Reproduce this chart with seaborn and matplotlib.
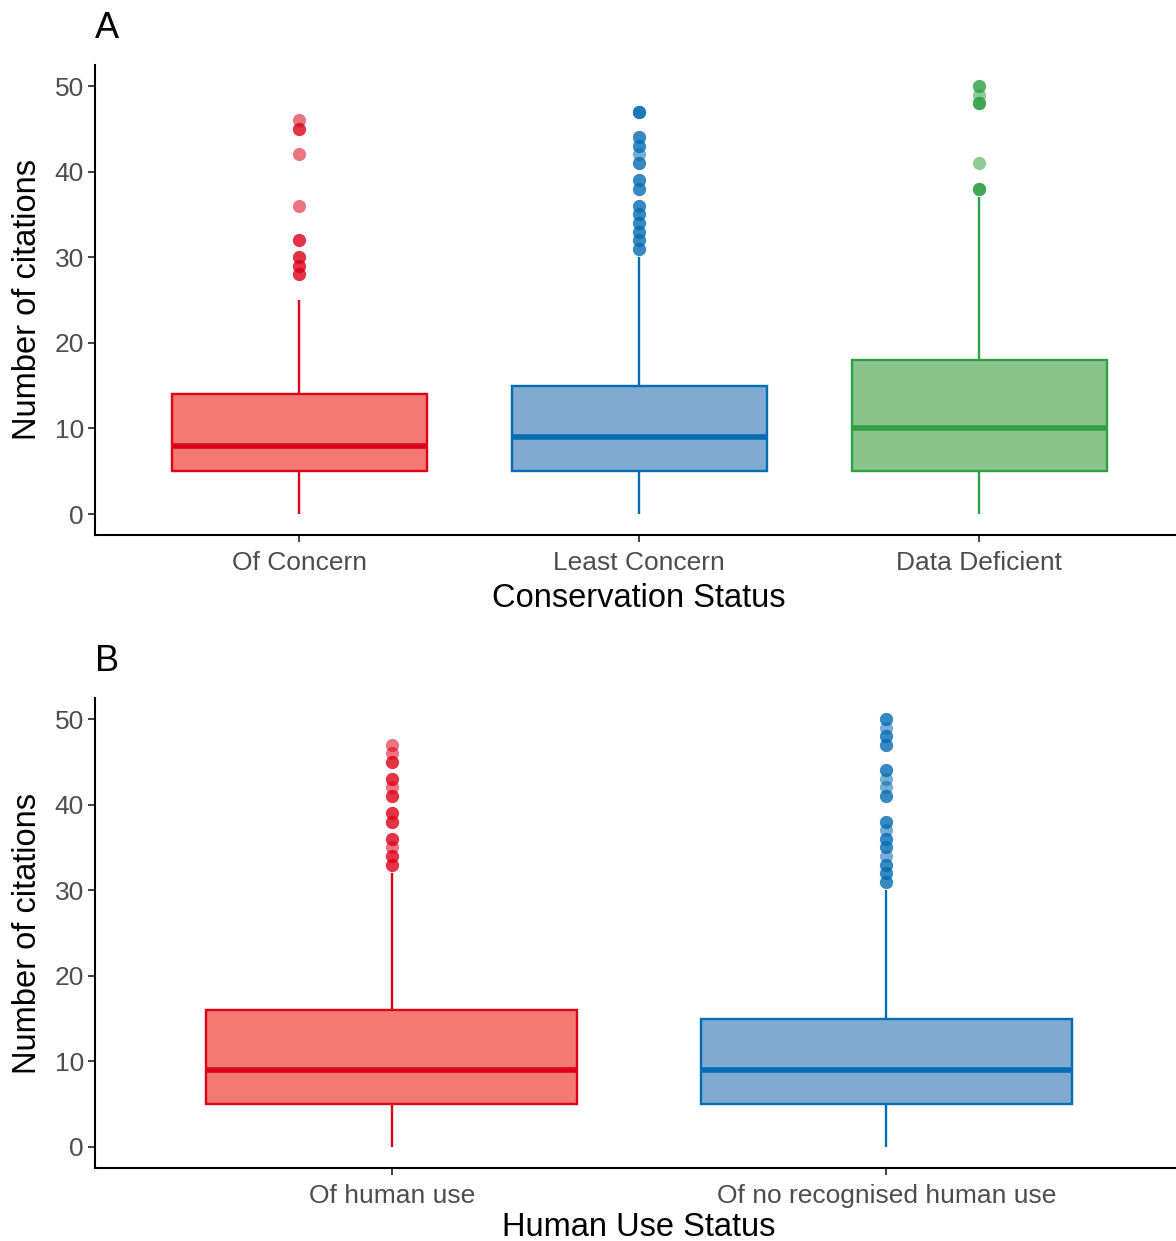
import pandas as pd
import numpy as np
import matplotlib
matplotlib.use("Agg")
import matplotlib.pyplot as plt
import seaborn as sns

# ---------------- data ----------------
# panel A: conservation status
status_labels = ["Of Concern", "Least Concern", "Data Deficient"]
status_low = [0, 0, 0]
status_q1 = [5, 5, 5]
status_med = [8, 9, 10]
status_q3 = [14, 15, 18]
status_high = [25, 30, 37]
status_outliers = [
    [46, 45, 45, 42, 36, 32, 32, 30, 30, 29, 29, 28, 28],
    [47, 47, 47, 44, 44, 43, 43, 42, 41, 41, 39, 39, 38, 38, 36, 36,
     35, 35, 34, 34, 33, 33, 32, 32, 31, 31],
    [50, 50, 49, 48, 48, 48, 41, 38, 38, 38],
]

# panel B: human use status
use_labels = ["Of human use", "Of no recognised human use"]
use_low = [0, 0]
use_q1 = [5, 5]
use_med = [9, 9]
use_q3 = [16, 15]
use_high = [32, 30]
use_outliers = [
    [47, 46, 45, 45, 43, 43, 42, 41, 41, 39, 39, 38, 38, 36, 36, 35,
     34, 34, 33, 33],
    [50, 50, 49, 48, 48, 47, 47, 44, 44, 43, 42, 41, 41, 38, 38, 37,
     36, 36, 35, 35, 34, 33, 33, 32, 32, 31, 31],
]

edge_cols = ["#DD0018", "#046CB4", "#2EA043"]
fill_cols = ["#F37A72", "#80AAD2", "#8AC48D"]


def make_df(labels, low, q1, med, q3, high, outliers, n=40):
    # rebuild a sample whose quartiles / whiskers match the summary values
    rows = []
    for i, lab in enumerate(labels):
        vals = [low[i]] + [q1[i]] * n + [med[i]] * n + [q3[i]] * n + [high[i]] + outliers[i]
        rows += [(lab, v) for v in vals]
    return pd.DataFrame(rows, columns=["group", "citations"])


dfA = make_df(status_labels, status_low, status_q1, status_med, status_q3, status_high, status_outliers)
dfB = make_df(use_labels, use_low, use_q1, use_med, use_q3, use_high, use_outliers)

# ---------------- style ----------------
sns.set_style("ticks")
plt.rcParams["font.family"] = ["Liberation Sans", "DejaVu Sans"]

W, H = 1176, 1241
fig = plt.figure(figsize=(W / 100, H / 100), dpi=100)
axA = fig.add_axes([95 / W, 1 - 535.4 / H, 1088 / W, 470.8 / H])
axB = fig.add_axes([95 / W, 1 - 1168.4 / H, 1088 / W, 470.8 / H])


def draw(ax, df, labels, xlabel, xpad):
    sns.boxplot(data=df, x="group", y="citations", hue="group", order=labels,
                hue_order=labels, palette=edge_cols[:len(labels)], width=0.75,
                showcaps=False, linewidth=1.7, legend=False, ax=ax,
                medianprops=dict(linewidth=4),
                flierprops=dict(marker="o", markersize=9.5, markeredgewidth=0))
    for cont, ec, fc in zip(ax.containers, edge_cols, fill_cols):
        for b in cont.boxes:
            b.set_facecolor(fc)
            b.set_edgecolor(ec)
            b.set_linewidth(1.7)
        for ln in list(cont.whiskers) + list(cont.medians):
            ln.set_color(ec)
        for f in cont.fliers:
            f.set_markerfacecolor(ec)
            f.set_markeredgecolor("none")
            f.set_alpha(0.55)
    ax.set_xlim(-0.6, len(labels) - 0.4)
    ax.set_ylim(-2.5, 52.5)
    ax.set_yticks([0, 10, 20, 30, 40, 50])
    ax.set_xlabel(xlabel, fontsize=23.5, color="black", labelpad=xpad)
    ax.set_ylabel("Number of citations", fontsize=23.5, color="black", labelpad=8)
    ax.tick_params(axis="both", labelsize=19, colors="#333333", labelcolor="#4D4D4D",
                   length=5, width=1.3, pad=3)
    ax.tick_params(axis="x", pad=6)
    sns.despine(ax=ax)
    for s in ["left", "bottom"]:
        ax.spines[s].set_linewidth(1.5)
        ax.spines[s].set_color("black")


draw(axA, dfA, status_labels, "Conservation Status", 6)
draw(axB, dfB, use_labels, "Human Use Status", 3)

fig.text(95 / W, 1 - 38 / H, "A", fontsize=26, color="black", va="baseline", ha="left")
fig.text(95 / W, 1 - 671 / H, "B", fontsize=26, color="black", va="baseline", ha="left")

fig.savefig("out.png", dpi=100)
